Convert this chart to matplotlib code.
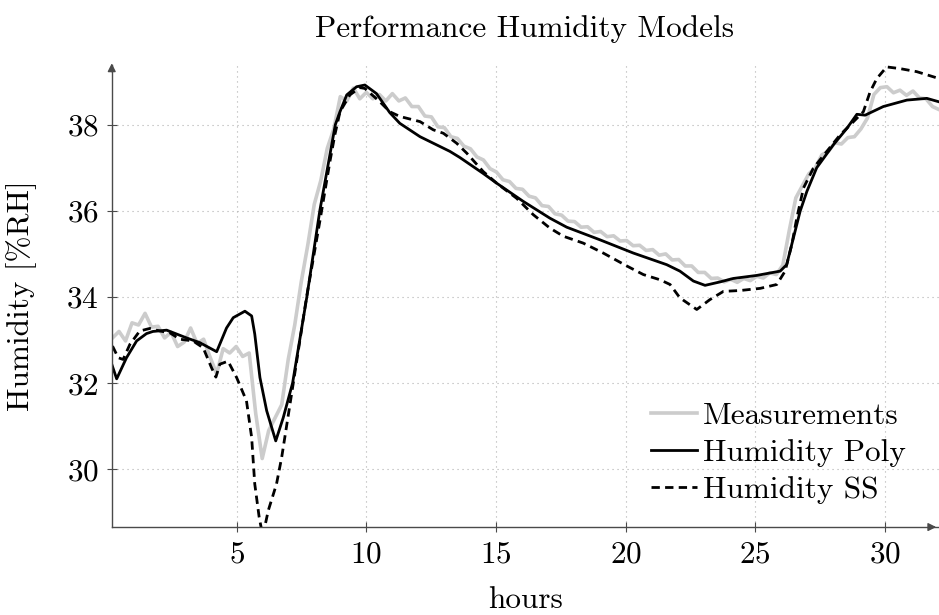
import numpy as np
import matplotlib
matplotlib.use("Agg")
import matplotlib.pyplot as plt

plt.rcParams.update({
    "font.family": "cmr10",
    "mathtext.fontset": "cm",
    "axes.formatter.use_mathtext": True,
    "font.size": 22.5,
})

# measured humidity, sampled every ~0.25 h
meas_hours = np.linspace(0.2, 32.1, 128)
meas_rh = [
    33.05, 33.20, 32.98, 33.40, 33.35, 33.62, 33.30, 33.32, 33.05, 33.18,
    32.85, 32.95, 33.28, 32.92, 33.02, 32.60, 32.22, 32.80, 32.70, 32.85,
    32.62, 32.70, 31.30, 30.25, 30.90, 31.20, 31.50, 32.55, 33.35, 34.35,
    35.20, 36.15, 36.70, 37.45, 37.90, 38.65, 38.55, 38.85, 38.60, 38.75,
    38.60, 38.70, 38.55, 38.72, 38.55, 38.62, 38.42, 38.42, 38.20, 38.18,
    37.95, 37.93, 37.72, 37.68, 37.50, 37.44, 37.25, 37.18, 36.98, 36.90,
    36.72, 36.68, 36.52, 36.50, 36.34, 36.30, 36.12, 36.10, 35.93, 35.90,
    35.76, 35.75, 35.62, 35.63, 35.50, 35.52, 35.40, 35.42, 35.30, 35.31,
    35.19, 35.20, 35.08, 35.10, 34.97, 35.00, 34.86, 34.87, 34.72, 34.72,
    34.57, 34.57, 34.43, 34.44, 34.35, 34.41, 34.34, 34.43, 34.38, 34.48,
    34.44, 34.56, 34.52, 34.74, 35.55, 36.30, 36.58, 36.86, 37.00, 37.30,
    37.38, 37.58, 37.55, 37.70, 37.72, 37.90, 38.15, 38.70, 38.86, 38.88,
    38.74, 38.80, 38.68, 38.78, 38.62, 38.60, 38.42, 38.35,
]

poly_hours = [
    0.17, 0.36, 0.74, 1.13, 1.51, 1.76, 2.29, 3.06, 3.57, 4.22,
    4.60, 4.86, 5.31, 5.57, 5.69, 5.89, 6.15, 6.50, 6.79, 7.15,
    7.70, 8.20, 8.80, 8.98, 9.24, 9.62, 9.94, 10.39, 10.90, 11.29,
    12.07, 13.22, 13.60, 14.50, 15.03, 16.05, 17.08, 17.73, 19.00, 20.30,
    21.59, 22.10, 22.62, 23.07, 23.65, 24.16, 25.06, 25.97, 26.22, 26.48,
    26.74, 27.00, 27.38, 28.02, 28.54, 28.93, 29.25, 29.95, 30.86, 31.63,
    32.10,
]
poly_rh = [
    32.44, 32.10, 32.59, 32.98, 33.15, 33.20, 33.23, 33.05, 32.94, 32.73,
    33.28, 33.52, 33.67, 33.56, 33.14, 32.13, 31.36, 30.66, 31.20, 32.00,
    34.00, 36.00, 38.00, 38.30, 38.69, 38.88, 38.92, 38.72, 38.28, 38.03,
    37.72, 37.38, 37.24, 36.87, 36.64, 36.22, 35.83, 35.62, 35.33, 35.02,
    34.75, 34.60, 34.37, 34.27, 34.35, 34.43, 34.50, 34.60, 34.75, 35.37,
    35.99, 36.45, 37.00, 37.53, 37.91, 38.24, 38.22, 38.42, 38.57, 38.61,
    38.53,
]

ss_hours = [
    0.20, 0.42, 0.61, 0.87, 1.25, 1.64, 2.03, 2.41, 2.80, 3.31,
    3.70, 4.02, 4.19, 4.34, 4.66, 4.99, 5.37, 5.57, 5.69, 5.86,
    6.00, 6.21, 6.53, 6.73, 7.05, 7.37, 7.69, 8.20, 8.59, 8.78,
    8.98, 9.36, 9.75, 9.94, 10.52, 10.90, 11.29, 12.07, 12.58, 12.97,
    13.48, 13.87, 14.51, 15.03, 15.80, 16.44, 17.08, 17.60, 18.37, 19.14,
    20.05, 20.69, 21.33, 21.72, 22.10, 22.75, 23.26, 23.78, 24.42, 25.20,
    25.84, 26.16, 26.42, 26.61, 26.87, 27.25, 27.77, 28.28, 28.80, 29.18,
    29.44, 29.70, 30.08, 30.60, 31.24, 32.10,
]
ss_rh = [
    32.86, 32.59, 32.55, 32.90, 33.21, 33.27, 33.21, 33.17, 33.02, 32.98,
    32.82, 32.36, 32.14, 32.44, 32.51, 32.13, 31.59, 30.74, 29.66, 28.89,
    28.45, 29.04, 29.66, 30.28, 31.51, 32.75, 34.00, 35.75, 37.14, 37.76,
    38.30, 38.69, 38.86, 38.84, 38.53, 38.30, 38.19, 38.07, 37.88, 37.80,
    37.57, 37.34, 36.91, 36.64, 36.29, 35.91, 35.60, 35.41, 35.25, 35.02,
    34.72, 34.52, 34.40, 34.29, 33.98, 33.71, 33.94, 34.13, 34.15, 34.20,
    34.29, 34.60, 35.22, 35.83, 36.53, 36.99, 37.38, 37.76, 38.07, 38.30,
    38.76, 39.07, 39.34, 39.30, 39.23, 39.07,
]

x_ticks = [5, 10, 15, 20, 25, 30]
y_ticks = [30, 32, 34, 36, 38]

fig = plt.figure(figsize=(9.39, 6.15), dpi=100)
ax = fig.add_axes([0.119, 0.143, 0.881, 0.751])

ax.plot(meas_hours, meas_rh, color="#cccccc", lw=2.6, label="Measurements")
ax.plot(poly_hours, poly_rh, color="black", lw=2.0, label="Humidity Poly")
ax.plot(ss_hours, ss_rh, color="black", lw=2.0, dashes=(3.0, 1.9),
        label="Humidity SS")

ax.set_xlim(0.17, 32.1)
ax.set_ylim(28.66, 39.38)
ax.set_xticks(x_ticks)
ax.set_yticks(y_ticks)
ax.grid(True, linestyle=(0, (1, 3.5)), color="#b0b0b0", lw=0.8)

for side in ("top", "right"):
    ax.spines[side].set_visible(False)
for side in ("left", "bottom"):
    ax.spines[side].set_color("#4a4a4a")
    ax.spines[side].set_linewidth(1.0)
ax.tick_params(direction="inout", length=7, width=0.8, color="#4a4a4a",
               labelsize=22.5, pad=6)

# axis arrows, pgfplots style
ax.annotate("", xy=(1.0, 0), xytext=(0.985, 0), xycoords="axes fraction",
            arrowprops=dict(arrowstyle="-|>", color="#4a4a4a", lw=1.0,
                            mutation_scale=12))
ax.annotate("", xy=(0, 1.01), xytext=(0, 0.98), xycoords="axes fraction",
            arrowprops=dict(arrowstyle="-|>", color="#4a4a4a", lw=1.0,
                            mutation_scale=12))

ax.set_xlabel("hours", fontsize=22.5, labelpad=13)
ax.set_ylabel("Humidity [%RH]", fontsize=22.5, labelpad=21)
fig.text(0.559, 0.953, "Performance Humidity Models", ha="center",
         va="center", fontsize=22.5)

ax.legend(loc="lower right", frameon=False, fontsize=22.5, handlelength=1.45,
          handletextpad=0.2, labelspacing=0.3, borderaxespad=0.4,
          bbox_to_anchor=(0.99, -0.005))

fig.savefig("out.png", dpi=100)
